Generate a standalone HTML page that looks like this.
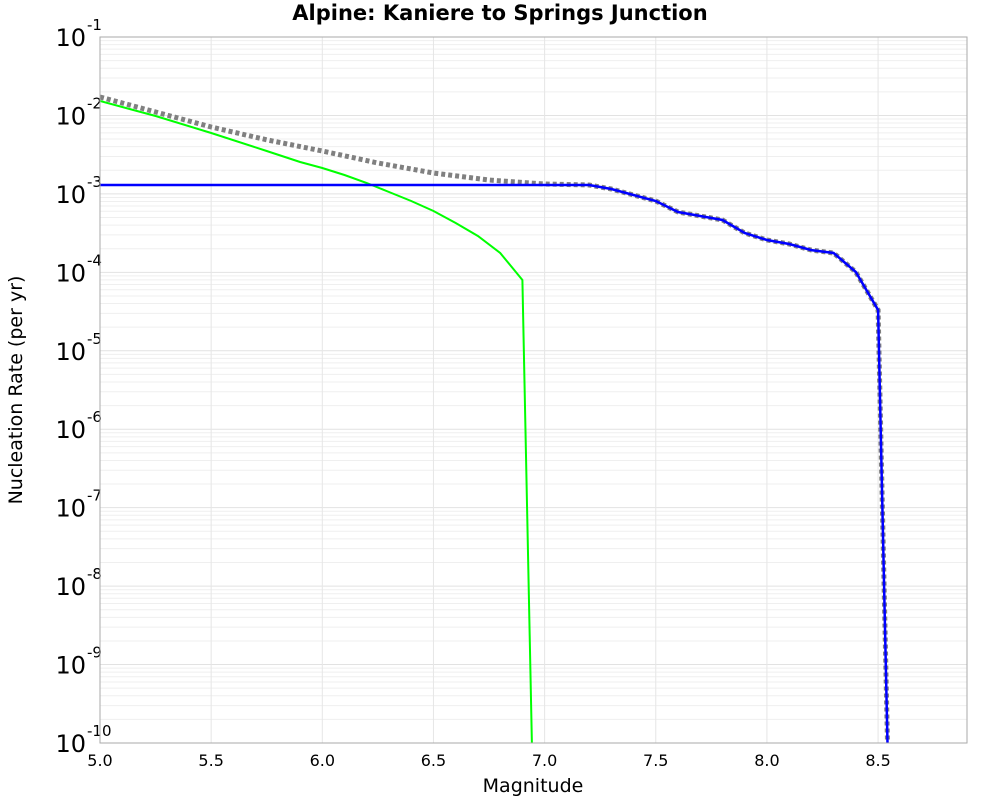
<!DOCTYPE html>
<html><head><meta charset="utf-8"><style>
body{margin:0;background:#fff;font-family:"Liberation Sans","DejaVu Sans",sans-serif}
</style></head><body>
<svg id="chart" width="1000" height="800" xmlns="http://www.w3.org/2000/svg">
<text x="500" y="20" text-anchor="middle" font-weight="bold" font-size="21" font-family="DejaVu Sans, sans-serif">Alpine: Kaniere to Springs Junction</text>
<g id="grid"></g>
<g id="ticks"></g>
<g id="series"></g>
<rect x="100" y="37" width="867" height="706" fill="none" stroke="#aaa"/>
<text x="533" y="792" text-anchor="middle" font-size="19" font-family="DejaVu Sans, sans-serif">Magnitude</text>
<text transform="translate(22,390) rotate(-90)" text-anchor="middle" font-size="19" font-family="DejaVu Sans, sans-serif">Nucleation Rate (per yr)</text>
</svg>
<script>
const xTicks=[5.0,5.5,6.0,6.5,7.0,7.5,8.0,8.5];
const yExps=[-1,-2,-3,-4,-5,-6,-7,-8,-9,-10];
const blueM=[5.0,7.2,7.3,7.4,7.5,7.6,7.7,7.8,7.9,8.0,8.1,8.2,8.3,8.4,8.5,8.55];
const blueLog=[-2.887,-2.887,-2.938,-3.014,-3.091,-3.231,-3.282,-3.333,-3.499,-3.588,-3.639,-3.716,-3.754,-3.996,-4.48,-11];
const grayM=[5.0,5.5,5.75,6.0,6.25,6.5,6.75,7.0,7.2,7.3,7.4,7.5,7.6,7.7,7.8,7.9,8.0,8.1,8.2,8.3,8.4,8.5,8.55];
const grayLog=[-1.765,-2.147,-2.31,-2.453,-2.606,-2.734,-2.823,-2.874,-2.887,-2.938,-3.014,-3.091,-3.231,-3.282,-3.333,-3.499,-3.588,-3.639,-3.716,-3.754,-3.996,-4.48,-11];
const greenM=[5.0,5.25,5.5,5.75,5.9,6.0,6.1,6.2,6.3,6.4,6.5,6.6,6.7,6.8,6.9,6.95];
const greenLog=[-1.816,-2.007,-2.224,-2.453,-2.594,-2.67,-2.759,-2.861,-2.976,-3.091,-3.218,-3.371,-3.537,-3.753,-4.098,-11];
const X0=100,X1=967,Y0=37,Y1=743,xmin=5.0,xmax=8.9,lmax=-1,lmin=-10;
const sx=m=>X0+(m-xmin)/(xmax-xmin)*(X1-X0);
const sy=l=>Y0+(lmax-l)/(lmax-lmin)*(Y1-Y0);
const NS="http://www.w3.org/2000/svg";
function mk(tag,attrs,parent){const e=document.createElementNS(NS,tag);for(const k in attrs)e.setAttribute(k,attrs[k]);parent.appendChild(e);return e;}
const grid=document.getElementById('grid'),ticks=document.getElementById('ticks'),series=document.getElementById('series');
for(let d=lmax;d>lmin;d--){for(let k=2;k<=9;k++){const y=sy(d-1+Math.log10(k));
const l=mk('line',{x1:X0,x2:X1,y1:y,y2:y,stroke:'#efefef','stroke-width':1},grid);

}}
yExps.forEach(e=>{const y=sy(e);
const l=mk('line',{x1:X0,x2:X1,y1:y,y2:y,stroke:'#e2e2e2','stroke-width':1},grid);


const t=mk('text',{x:86,y:y+9,'text-anchor':'end','font-size':24,'font-family':'DejaVu Sans, sans-serif'},ticks);


t.textContent='10';
const s=mk('text',{x:87,y:y-7,'text-anchor':'start','font-size':15,'font-family':'DejaVu Sans, sans-serif'},ticks);


s.textContent=String(e);});
xTicks.forEach(m=>{const x=sx(m);
const l=mk('line',{x1:x,x2:x,y1:Y0,y2:Y1,stroke:'#e6e6e6','stroke-width':1},grid);


const t=mk('text',{x:x,y:766,'text-anchor':'middle','font-size':16,'font-family':'DejaVu Sans, sans-serif'},ticks);


t.textContent=m.toFixed(1);});
const cp=mk('clipPath',{id:'clip'},series);mk('rect',{x:X0,y:Y0,width:X1-X0,height:Y1-Y0},cp);
function pts(ms,ls){return ms.map((m,i)=>sx(m).toFixed(1)+','+sy(ls[i]).toFixed(1)).join(' ');}
const g=mk('polyline',{points:pts(grayM,grayLog),fill:'none',stroke:'#808080','stroke-width':5,'stroke-dasharray':'4,3','clip-path':'url(#clip)'},series);


const gr=mk('polyline',{points:pts(greenM,greenLog),fill:'none',stroke:'#00ff00','stroke-width':2,'clip-path':'url(#clip)'},series);


const b=mk('polyline',{points:pts(blueM,blueLog),fill:'none',stroke:'#0000ff','stroke-width':2.5,'clip-path':'url(#clip)'},series);


</script>
</body></html>
